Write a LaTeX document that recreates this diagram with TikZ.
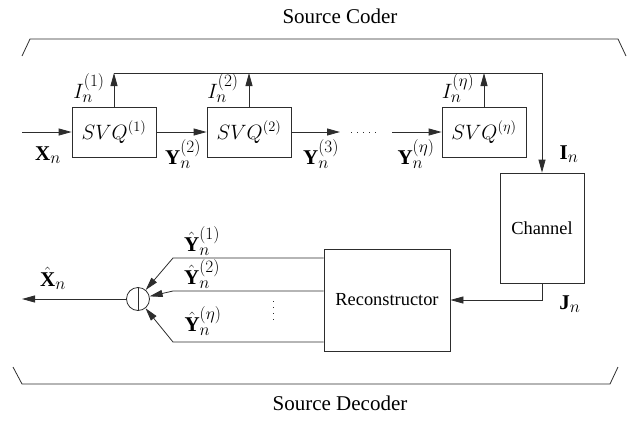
\documentclass[tikz,border=0pt]{standalone}
\usepackage{amsmath,amssymb}
\usepackage{fontspec}
\setmainfont{Liberation Serif}
\usepackage{tikz}
\usetikzlibrary{arrows.meta,positioning,calc}
\definecolor{ink}{RGB}{45,45,45}
\DeclareMathSizes{21}{21}{17}{14}

\begin{document}
\begin{tikzpicture}[x=1pt,y=-1pt,
    blk/.style={draw=ink,line width=0.8pt,minimum width=84pt,
      minimum height=50pt,inner sep=0pt,font=\fontsize{20}{24}\selectfont},
    sig/.style={draw=ink,line width=0.8pt,-{Triangle[length=13pt,width=7pt]}},
    wire/.style={draw=ink,line width=0.8pt},
    dots/.style={draw=ink,line width=1pt,dash pattern=on 1pt off 5pt},
    lbl/.style={inner sep=0pt,font=\fontsize{21}{25}\selectfont},
    txt/.style={font=\fontsize{18.4}{22}\selectfont}]
  \useasboundingbox (0,0) rectangle (627,421);
  % coder chain
  \node[blk] (svq1) at (114,132) {$SVQ^{(1)}$};
  \node[blk] (svq2) at (249,132) {$SVQ^{(2)}$};
  \node[blk] (svqe) at (484,132) {$SVQ^{(\eta)}$};
  \node[blk,txt,minimum height=110pt] (chan) at (542,228) {Channel};
  \node[blk,txt,minimum width=126pt,minimum height=102pt]
    (recon) at (387,300) {Reconstructor};
  \node[draw=ink,line width=0.8pt,circle,minimum size=23pt,
    inner sep=0pt] (sum) at (138,299) {};
  \draw[wire] (sum.north) -- (sum.south);
  \coordinate (xin) at (22,132);
  \coordinate (y3) at (340,132);
  \coordinate (d1) at (351,132);
  \coordinate (d2) at (381,132);
  \coordinate (ye) at (392,132);
  \coordinate (fb) at (542,73);
  \coordinate (xout) at (22,299);
  \coordinate (k1) at (173,258);
  \coordinate (k2) at (173,291);
  \coordinate (ke) at (173,342);
  \coordinate (v1) at (273,301);
  \coordinate (v2) at (273,324);
  \draw[sig] (xin) -- (svq1);
  \draw[sig] (svq1) -- (svq2);
  \draw[sig] (svq2) -- (y3);
  \draw[dots] (d1) -- (d2);
  \draw[sig] (ye) -- (svqe);
  \draw[sig] (svq1.north) -- (svq1.north |- fb);
  \draw[sig] (svq2.north) -- (svq2.north |- fb);
  \draw[sig] (svqe.north) -- (svqe.north |- fb);
  \draw[wire] (svq1.north |- fb) -- (fb);
  \draw[sig] (fb) -- (chan.north);
  \draw[sig] (chan.south) |- (recon.east);
  % decoder side
  \draw[sig] (recon.west |- k1) -- (k1) -- (sum);
  \draw[sig] (recon.west |- k2) -- (k2) -- (sum);
  \draw[sig] (recon.west |- ke) -- (ke) -- (sum);
  \draw[sig] (sum) -- (xout);
  \draw[dots] (v1) -- (v2);
  % labels
  \node[lbl] (lx) at (48,155) {$\mathbf{X}_n$};
  \node[lbl] (ly2) at (183,154) {$\mathbf{Y}_n^{(2)}$};
  \node[lbl] (ly3) at (321,154) {$\mathbf{Y}_n^{(3)}$};
  \node[lbl] (lye) at (416,154) {$\mathbf{Y}_n^{(\eta)}$};
  \node[lbl] (li1) at (89,88) {$I_n^{(1)}$};
  \node[lbl] (li2) at (223,88) {$I_n^{(2)}$};
  \node[lbl] (lie) at (458,88) {$I_n^{(\eta)}$};
  \node[lbl] (lin) at (569,154) {$\mathbf{I}_n$};
  \node[lbl] (ljn) at (570,304) {$\mathbf{J}_n$};
  \node[lbl] (lxh) at (53,278) {$\hat{\mathbf{X}}_n$};
  \node[lbl] (lyh1) at (202,241) {$\hat{\mathbf{Y}}_n^{(1)}$};
  \node[lbl] (lyh2) at (202,274) {$\hat{\mathbf{Y}}_n^{(2)}$};
  \node[lbl] (lyhe) at (203,321) {$\hat{\mathbf{Y}}_n^{(\eta)}$};
  % braces
  \draw[wire] (22,56) -- (30,39) -- (618,39) -- (626,56);
  \draw[wire] (13,367) -- (22,384) -- (610,384) -- (618,367);
  \node[txt,font=\fontsize{21}{25}\selectfont] (coder) at (340,16) {Source Coder};
  \node[txt,font=\fontsize{21}{25}\selectfont] (decoder) at (340,403) {Source Decoder};
\end{tikzpicture}
\end{document}
